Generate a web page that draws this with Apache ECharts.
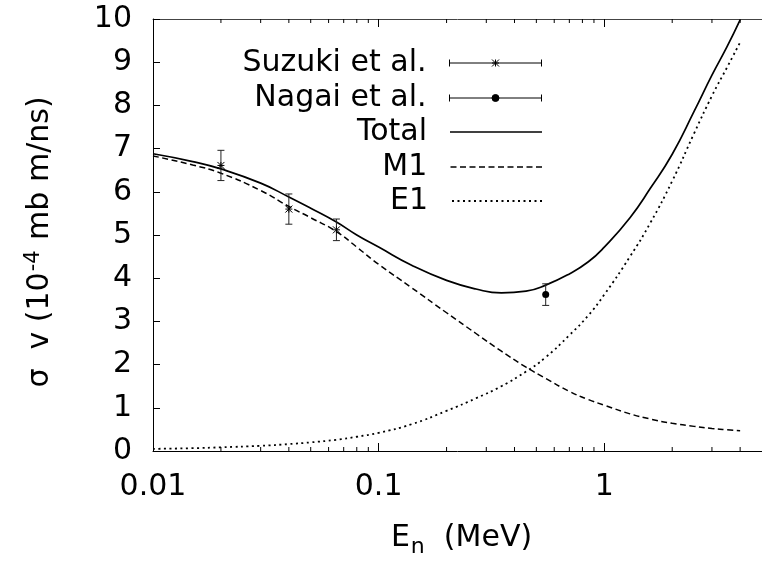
<!DOCTYPE html>
<html>
<head>
<meta charset="utf-8">
<script src="https://cdn.jsdelivr.net/npm/echarts@6/dist/echarts.min.js"></script>
<style>
  html, body { margin: 0; padding: 0; background: #fff; }
  #chart { width: 762px; height: 563px; }
</style>
</head>
<body>
<div id="chart"></div>
<script>
// neutron energy grid (MeV) for the model curves
const energies = [0.01, 0.015, 0.02, 0.03, 0.04, 0.05, 0.065, 0.08, 0.1, 0.14, 0.2, 0.27,
                  0.35, 0.45, 0.55, 0.7, 0.85, 1.0, 1.3, 1.6, 2.0, 2.5, 3.0, 3.5, 4.0];
const totalCurve = [6.88, 6.70, 6.53, 6.20, 5.88, 5.62, 5.30, 5.00, 4.72, 4.30, 3.95, 3.75,
                    3.66, 3.70, 3.84, 4.10, 4.38, 4.72, 5.40, 6.08, 6.87, 7.86, 8.70, 9.36, 9.98];
const m1Curve    = [6.83, 6.62, 6.43, 6.03, 5.66, 5.40, 5.08, 4.72, 4.32, 3.78, 3.20, 2.72,
                    2.31, 1.94, 1.68, 1.38, 1.19, 1.06, 0.86, 0.74, 0.64, 0.57, 0.52, 0.49, 0.47];
const e1Curve    = [0.05, 0.065, 0.085, 0.12, 0.16, 0.20, 0.26, 0.33, 0.42, 0.62, 0.93, 1.22,
                    1.50, 1.84, 2.17, 2.68, 3.14, 3.62, 4.50, 5.28, 6.25, 7.35, 8.22, 8.88, 9.46];

// measured points
const suzukiE = [0.02, 0.04, 0.065];
const suzukiSigma = [6.61, 5.60, 5.12];
const suzukiErr = [0.35, 0.35, 0.25];
const nagaiE = [0.55];
const nagaiSigma = [3.62];
const nagaiErr = [0.25];

// small ticks between the decades
const minorTickE = [0.02, 0.03, 0.04, 0.05, 0.06, 0.07, 0.08, 0.09,
                    0.2, 0.3, 0.4, 0.5, 0.6, 0.7, 0.8, 0.9, 2, 3, 4];

const FONT = "'DejaVu Sans', sans-serif";
const INK = '#000';
const SAMPLE_W = 92;

function pairs(xs, ys) {
    return xs.map((x, i) => [x, ys[i]]);
}

// legend sample built from small filled rectangles (dash, gap)
function dashIcon(dash, gap, h) {
    let d = '';
    for (let x = 0; x < SAMPLE_W; x += dash + gap) {
        const w = Math.min(dash, SAMPLE_W - x);
        d += 'M' + x + ',0 h' + w + ' v' + h + ' h' + (-w) + ' Z ';
    }
    return 'path://' + d;
}

// error bar with a marker at the centre
function errorBarItem(kind) {
    return function (params, api) {
        const x = api.value(0), y = api.value(1), e = api.value(2);
        const hi = api.coord([x, y + e]);
        const lo = api.coord([x, y - e]);
        const c = api.coord([x, y]);
        const cap = 3.5;
        const bar = { stroke: '#222', lineWidth: 1 };
        const kids = [
            { type: 'line', shape: { x1: hi[0], y1: hi[1], x2: lo[0], y2: lo[1] }, style: bar },
            { type: 'line', shape: { x1: hi[0] - cap, y1: hi[1], x2: hi[0] + cap, y2: hi[1] }, style: bar },
            { type: 'line', shape: { x1: lo[0] - cap, y1: lo[1], x2: lo[0] + cap, y2: lo[1] }, style: bar }
        ];
        if (kind === 'star') {
            const s = 3.5;
            const st = { stroke: INK, lineWidth: 1 };
            kids.push(
                { type: 'line', shape: { x1: c[0] - s, y1: c[1] - s, x2: c[0] + s, y2: c[1] + s }, style: st },
                { type: 'line', shape: { x1: c[0] - s, y1: c[1] + s, x2: c[0] + s, y2: c[1] - s }, style: st },
                { type: 'line', shape: { x1: c[0] - s, y1: c[1], x2: c[0] + s, y2: c[1] }, style: st },
                { type: 'line', shape: { x1: c[0], y1: c[1] - s, x2: c[0], y2: c[1] + s }, style: st }
            );
        } else {
            kids.push({ type: 'circle', shape: { cx: c[0], cy: c[1], r: 3.5 }, style: { fill: INK } });
        }
        return { type: 'group', children: kids };
    };
}

function minorTickItem(params, api) {
    const x = api.value(0);
    const b = api.coord([x, 0]);
    const t = api.coord([x, 10]);
    const len = 4;
    const st = { stroke: INK, lineWidth: 1 };
    return {
        type: 'group',
        children: [
            { type: 'line', shape: { x1: b[0], y1: b[1], x2: b[0], y2: b[1] - len }, style: st },
            { type: 'line', shape: { x1: t[0], y1: t[1], x2: t[0], y2: t[1] + len }, style: st }
        ]
    };
}

const legendRight = 220;
const legendRows = [
    { name: 'Suzuki et al.', center: 63, h: 7, stroke: true,
      icon: 'path://M0,0 L0,7 M0,3.5 L92,3.5 M92,0 L92,7 M42.5,0 L49.5,7 M49.5,0 L42.5,7 M42.5,3.5 L49.5,3.5 M46,0 L46,7' },
    { name: 'Nagai et al.', center: 98, h: 7, stroke: true,
      icon: 'path://M0,0 L0,7 M0,3.5 L92,3.5 M92,0 L92,7 M49.5,3.5 A3.5,3.5 0 1 1 42.5,3.5 A3.5,3.5 0 1 1 49.5,3.5 Z' },
    { name: 'Total', center: 132, h: 1.7, icon: dashIcon(92, 0, 1.7) },
    { name: 'M1', center: 167, h: 1.5, icon: dashIcon(6, 3.5, 1.5) },
    { name: 'E1', center: 201, h: 1.8, icon: dashIcon(2, 3.5, 1.8) }
];

const legends = legendRows.map(r => {
    const item = {
        name: r.name,
        icon: r.icon,
        itemStyle: r.stroke
            ? { color: INK, borderColor: INK, borderWidth: 1 }
            : { color: INK, borderWidth: 0 }
    };
    return {
        data: [item],
        right: legendRight,
        top: r.center - 15,
        padding: 0,
        align: 'right',
        selectedMode: false,
        itemWidth: SAMPLE_W,
        itemHeight: r.h,
        textStyle: { fontFamily: FONT, fontSize: 30, color: INK, lineHeight: 30, padding: [0, 18, 0, 0] }
    };
});

const chart = echarts.init(document.getElementById('chart'), null, { renderer: 'canvas' });

chart.setOption({
    animation: false,
    backgroundColor: '#fff',
    legend: legends,
    grid: { left: 153, top: 19, right: -8, bottom: 108, containLabel: false },
    xAxis: [{
        type: 'log',
        logBase: 10,
        min: 0.01,
        max: 5,
        position: 'bottom',
        axisLine: { show: true, lineStyle: { color: INK, width: 1 } },
        axisTick: { show: true, inside: true, length: 8, lineStyle: { color: INK } },
        splitLine: { show: false },
        axisLabel: { fontFamily: FONT, fontSize: 30, color: INK, margin: 21, showMaxLabel: false },
        name: '{a|E}{n|n}{a|  (MeV)}',
        nameLocation: 'middle',
        nameGap: 72,
        nameTextStyle: {
            padding: [0, 0, 0, 8],
            rich: {
                a: { fontFamily: FONT, fontSize: 30, color: INK, lineHeight: 30, verticalAlign: 'top' },
                n: { fontFamily: FONT, fontSize: 22, color: INK, lineHeight: 30, verticalAlign: 'top', padding: [13, 0, 0, 1] }
            }
        }
    }, {
        type: 'log',
        logBase: 10,
        min: 0.01,
        max: 5,
        position: 'top',
        axisLine: { show: true, lineStyle: { color: '#444', width: 1 } },
        axisTick: { show: true, inside: true, length: 8, lineStyle: { color: INK } },
        splitLine: { show: false },
        axisLabel: { show: false }
    }],
    yAxis: {
        type: 'value',
        min: 0,
        max: 10,
        interval: 1,
        axisLine: { show: true, lineStyle: { color: INK, width: 1 } },
        axisTick: { show: true, inside: true, length: 7, lineStyle: { color: INK } },
        splitLine: { show: false },
        axisLabel: { fontFamily: FONT, fontSize: 30, color: INK, margin: 21 },
        name: '{a|σ  v (10}{s|-4}{a| mb m/ns)}',
        nameLocation: 'middle',
        nameGap: 98,
        nameTextStyle: {
            padding: [0, 14, 0, 0],
            rich: {
                a: { fontFamily: FONT, fontSize: 30, color: INK, lineHeight: 30, verticalAlign: 'bottom' },
                s: { fontFamily: FONT, fontSize: 21, color: INK, lineHeight: 30, verticalAlign: 'bottom', padding: [0, 1, 11, 1] }
            }
        }
    },
    series: [
        {
            name: 'Suzuki et al.',
            type: 'custom',
            renderItem: errorBarItem('star'),
            data: suzukiE.map((e, i) => [e, suzukiSigma[i], suzukiErr[i]]),
            encode: { x: 0, y: 1 },
            z: 5
        },
        {
            name: 'Nagai et al.',
            type: 'custom',
            renderItem: errorBarItem('dot'),
            data: nagaiE.map((e, i) => [e, nagaiSigma[i], nagaiErr[i]]),
            encode: { x: 0, y: 1 },
            z: 5
        },
        {
            name: 'Total',
            type: 'line',
            data: pairs(energies, totalCurve),
            symbol: 'none',
            smooth: true,
            lineStyle: { color: INK, width: 1.7, type: 'solid' },
            itemStyle: { color: INK }
        },
        {
            name: 'M1',
            type: 'line',
            data: pairs(energies, m1Curve),
            symbol: 'none',
            smooth: true,
            lineStyle: { color: INK, width: 1.5, type: [6, 3.5] },
            itemStyle: { color: INK }
        },
        {
            name: 'E1',
            type: 'line',
            data: pairs(energies, e1Curve),
            symbol: 'none',
            smooth: true,
            lineStyle: { color: INK, width: 1.8, type: [2, 3.5] },
            itemStyle: { color: INK }
        },
        {
            name: 'ticks',
            type: 'custom',
            renderItem: minorTickItem,
            data: minorTickE.map(e => [e, 0]),
            encode: { x: 0, y: 1 },
            silent: true
        }
    ]
});
</script>
</body>
</html>
